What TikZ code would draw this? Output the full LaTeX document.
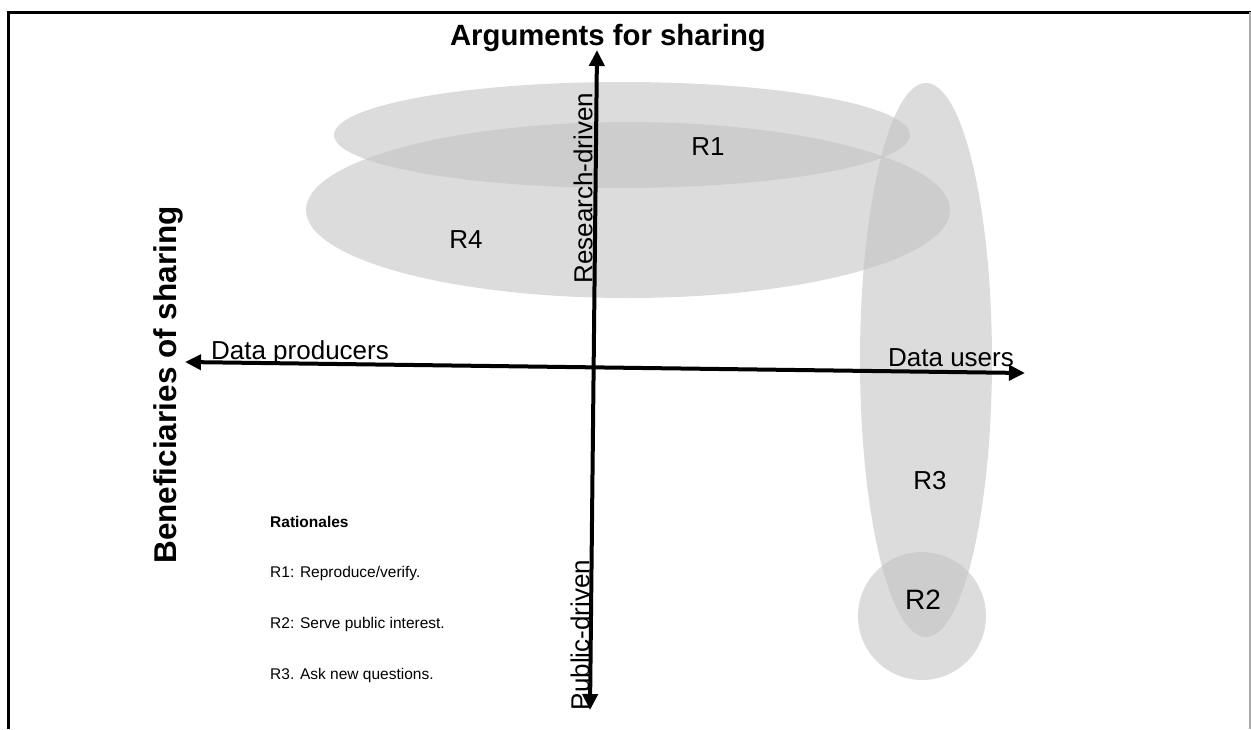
\documentclass[tikz,border=0pt]{standalone}
\usepackage{fontspec}
\setmainfont{Liberation Sans}
\usetikzlibrary{arrows.meta}
\definecolor{regiongray}{RGB}{194,194,194}
\definecolor{framegray}{RGB}{170,170,170}
\tikzset{
  region/.style={fill=regiongray, fill opacity=0.57},
  axisline/.style={line width=4pt, {Triangle[length=16pt,width=15pt]}-{Triangle[length=16pt,width=15pt]}},
  bigtext/.style={font=\fontsize{26}{30}\selectfont, inner sep=0pt},
  headtext/.style={font=\fontsize{29.3}{34}\selectfont\bfseries, inner sep=0pt},
  legendtext/.style={font=\fontsize{15.5}{18}\selectfont, inner sep=0pt, anchor=west},
}
\begin{document}
\begin{tikzpicture}[x=1pt,y=-1pt]
\useasboundingbox (0,0) rectangle (1251,729);

% frame
\draw[line width=3pt] (8,729) -- (8,12) -- (1251,12);
\draw[framegray, line width=1.5pt] (1250,12) -- (1250,729);

% rationale regions
\fill[region] (622,135) ellipse [x radius=288, y radius=53];
\fill[region] (628,210) ellipse [x radius=322, y radius=88];
\fill[region] (926,360) ellipse [x radius=66, y radius=277];
\fill[region] (922,616) circle [radius=64];

% axes
\coordinate (top) at (597,50);
\coordinate (bottom) at (590,710);
\coordinate (left) at (185,362);
\coordinate (right) at (1025,373);
\draw[axisline] (bottom) -- (top);
\draw[axisline] (left) -- (right);

% axis titles
\node[headtext] (args) at (608,38) {Arguments for sharing};
\node[headtext, font=\fontsize{31.5}{36}\selectfont\bfseries, rotate=90] (benef) at (168,385) {Beneficiaries of sharing};

% axis end labels
\node[bigtext, rotate=90] (research) at (583,188) {Research-driven};
\node[bigtext, rotate=90] (public) at (580,635) {Public-driven};
\node[bigtext] (producers) at (300,353) {Data producers};
\node[bigtext] (users) at (951,358) {Data users};

% region labels
\node[bigtext] (r1) at (708,147) {R1};
\node[bigtext] (r4) at (466,240) {R4};
\node[bigtext] (r3) at (930,481) {R3};
\node[bigtext, font=\fontsize{28}{32}\selectfont] (r2) at (923,600) {R2};

% legend
\node[legendtext, font=\fontsize{15.5}{18}\selectfont\bfseries] (legtitle) at (270,522) {Rationales};
\node[legendtext] (leg1) at (270,573) {R1: Reproduce/verify.};
\node[legendtext] (leg2) at (270,624) {R2: Serve public interest.};
\node[legendtext] (leg3) at (270,675) {R3. Ask new questions.};
\end{tikzpicture}
\end{document}
